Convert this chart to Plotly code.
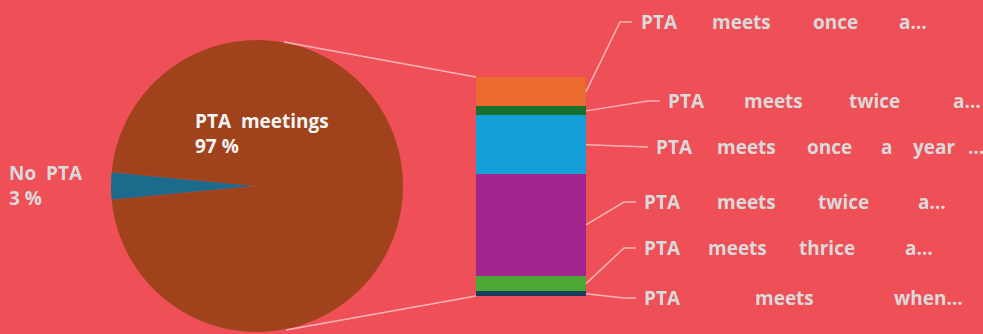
import plotly.graph_objects as go

W, H = 983, 334

# ---- data ----
pie_labels = ["No PTA", "PTA meetings"]
pie_values = [3, 97]
pie_colors = ["#1C6A8C", "#A0431D"]

# bar segments, bottom -> top
bar_labels = [
    "PTA meets when…",
    "PTA meets thrice a…",
    "PTA meets twice a…",
    "PTA meets once a year …",
    "PTA meets twice a…",
    "PTA meets once a…",
]
bar_values = [2, 7, 45, 26, 4, 13]
bar_colors = ["#1B3D5E", "#4BA832", "#A2258F", "#159FD9", "#17702E", "#EA6B2D"]

# ---- layout helpers (pixels -> paper) ----
def px(x):
    return x / W

def py(y):
    return 1 - y / H

BG = "#EF4F57"
LINE = "rgba(255,215,215,0.75)"
TXT = "#DADADA"
FONT = "Open Sans"
FS = 19

fig = go.Figure()

fig.add_trace(go.Pie(
    labels=pie_labels, values=pie_values, sort=False, direction="clockwise",
    rotation=-95.4, marker=dict(colors=pie_colors, line=dict(width=0)),
    textinfo="none", hoverinfo="label+percent", showlegend=False,
    domain=dict(x=[px(111), px(403)], y=[py(332), py(40)]),
))

for lab, val, col in zip(bar_labels, bar_values, bar_colors):
    fig.add_trace(go.Bar(
        x=[0], y=[val], name=lab, marker=dict(color=col, line=dict(width=0)),
        width=1, showlegend=False, hoverinfo="name+y",
    ))

total = sum(bar_values)
ydom = [py(296), py(77)]
xdom = [px(476), px(586)]

fig.update_layout(
    width=W, height=H, margin=dict(l=0, r=0, t=0, b=0),
    paper_bgcolor=BG, plot_bgcolor="rgba(0,0,0,0)",
    barmode="stack", bargap=0,
    xaxis=dict(domain=xdom, range=[-0.5, 0.5], visible=False, fixedrange=True),
    yaxis=dict(domain=ydom, range=[0, total], visible=False, fixedrange=True),
)

shapes = []
# connectors from pie to bar
shapes.append(dict(type="line", xref="paper", yref="paper",
                   x0=px(284), y0=py(42), x1=xdom[0], y1=ydom[1],
                   line=dict(color=LINE, width=1.5)))
shapes.append(dict(type="line", xref="paper", yref="paper",
                   x0=px(286), y0=py(330), x1=xdom[0], y1=ydom[0],
                   line=dict(color=LINE, width=1.5)))

# label placement (pixels): elbow x, end x, label y, word x positions
label_y = [298, 248, 202, 147, 101, 22]
elbow_x = [624, 624, 624, 648, 648, 620]
end_x = [636, 636, 636, 648, 660, 632]
word_x = [
    [642, 753, 892],
    [642, 706, 797, 903],
    [642, 715, 816, 916],
    [654, 715, 805, 879, 911, 966],
    [666, 742, 847, 951],
    [639, 710, 811, 897],
]

annotations = []
cum = 0
for i, (lab, val) in enumerate(zip(bar_labels, bar_values)):
    mid = cum + val / 2
    cum += val
    ys = ydom[0] + mid / total * (ydom[1] - ydom[0])
    path = "M {} {} L {} {} L {} {}".format(
        xdom[1], ys, px(elbow_x[i]), py(label_y[i]), px(end_x[i]), py(label_y[i]))
    shapes.append(dict(type="path", xref="paper", yref="paper", path=path,
                       line=dict(color=LINE, width=1.5)))
    words = lab.split(" ")
    for w, wx in zip(words, word_x[i]):
        annotations.append(dict(
            x=px(wx), y=py(label_y[i]), xref="paper", yref="paper",
            text=w, showarrow=False, xanchor="left", yanchor="middle",
            font=dict(family=FONT, size=FS, color=TXT, weight="bold"),
        ))

# pie labels
annotations.append(dict(
    x=px(193), y=py(134), xref="paper", yref="paper",
    text=f"PTA\u00a0\u00a0meetings<br>{pie_values[1]}\u00a0%", showarrow=False,
    xanchor="left", yanchor="middle", align="left",
    font=dict(family=FONT, size=FS, color="#F4F4F4", weight="bold"),
))
annotations.append(dict(
    x=px(7), y=py(185), xref="paper", yref="paper",
    text=f"No\u00a0\u00a0PTA<br>{pie_values[0]}\u00a0%", showarrow=False,
    xanchor="left", yanchor="middle", align="left",
    font=dict(family=FONT, size=FS, color=TXT, weight="bold"),
))

fig.update_layout(shapes=shapes, annotations=annotations)
fig.write_html("out.html")
